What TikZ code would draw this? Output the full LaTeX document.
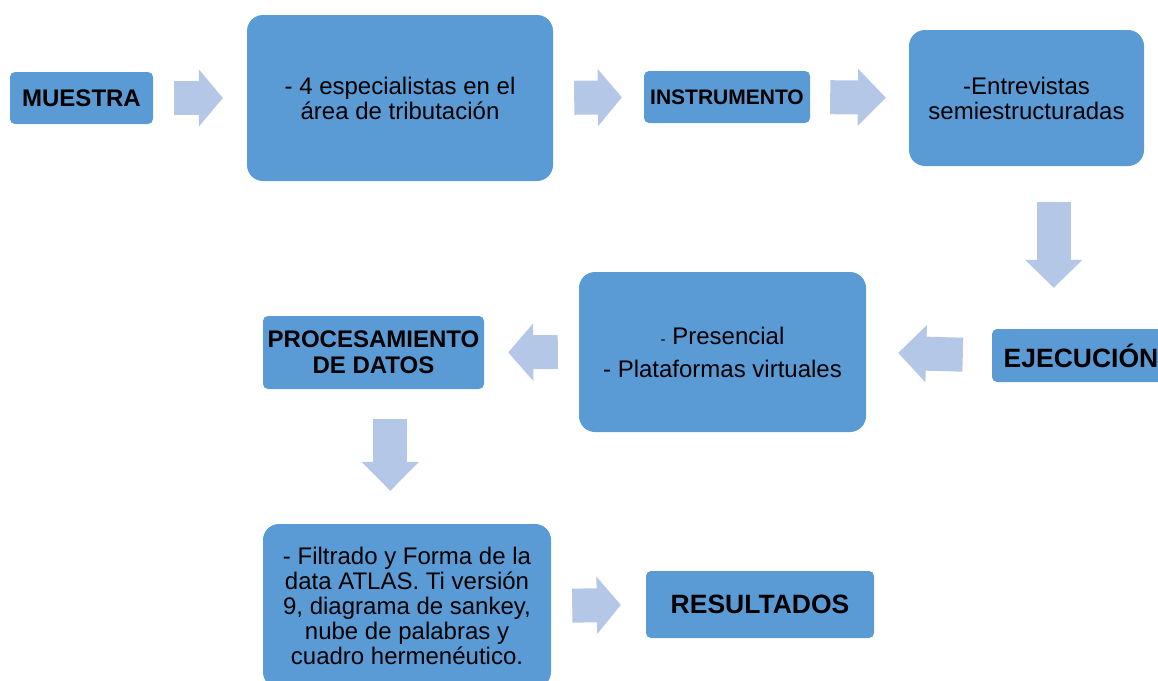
\documentclass[tikz,border=0pt]{standalone}
\usepackage{fontspec}
\setmainfont{Liberation Sans}
\usetikzlibrary{calc, arrows.meta}
\definecolor{boxblue}{HTML}{5B9BD5}
\definecolor{arrowblue}{HTML}{B4C7E7}

\begin{document}
\begin{tikzpicture}[x=1pt, y=-1pt,
    box/.style={fill=boxblue, rounded corners=5pt, inner sep=0pt, align=center},
    bigbox/.style={box, rounded corners=16pt, font=\fontsize{24}{25}\selectfont},
    barrow/.style={draw=arrowblue, line width=34pt, -{Triangle[length=#1, width=57pt, line width=2pt]}},
    barrow/.default=25pt]
    \useasboundingbox (0,0) rectangle (1158,680);
    \node[box, minimum width=143pt, minimum height=52pt, font=\bfseries\fontsize{24}{26}\selectfont] (muestra) at (81.5,98) {MUESTRA};
    \node[bigbox, minimum width=306pt, minimum height=166pt] (tribut) at (400,98) {- 4 especialistas en el\\área de tributación};
    \node[box, minimum width=166pt, minimum height=52pt, font=\bfseries\fontsize{21}{23}\selectfont] (instr) at (727,97) {INSTRUMENTO};
    \node[bigbox, minimum width=235pt, minimum height=136pt] (entrev) at (1026.5,98) {-Entrevistas\\semiestructuradas};
    \node[box, minimum width=178pt, minimum height=53pt, font=\bfseries\fontsize{26.5}{28}\selectfont] (ejec) at (1081,355.5) {EJECUCIÓN};
    \node[bigbox, minimum width=287pt, minimum height=160pt] (presen) at (722.5,352) {{\fontsize{15}{15}\selectfont -} Presencial\\[8pt]- Plataformas virtuales};
    \node[box, minimum width=221pt, minimum height=73pt, font=\bfseries\fontsize{24}{26}\selectfont] (proces) at (373.5,352.5) {PROCESAMIENTO\\DE DATOS};
    \node[bigbox, minimum width=288pt, minimum height=164pt] (filtr) at (407,606) {- Filtrado y Forma de la\\data ATLAS. Ti versión\\9, diagrama de sankey,\\nube de palabras y\\cuadro hermenéutico.};
    \node[box, minimum width=228pt, minimum height=67pt, font=\bfseries\fontsize{26.5}{28}\selectfont] (result) at (760,604.5) {RESULTADOS};

    \coordinate (d1) at ($(entrev.south)!0.5!(ejec.north)$);
    \coordinate (d2) at ($(proces.south)!0.5!(filtr.north)$);
    \draw[barrow=24pt, shorten <=21pt, shorten >=24pt] (muestra.east) -- (tribut.west);
    \draw[barrow=24pt, shorten <=21pt, shorten >=22pt] (tribut.east) -- (instr.west);
    \draw[barrow=28pt, shorten <=20pt, shorten >=23pt] (instr.east) -- (entrev.west);
    \draw[barrow=28pt, shorten <=36pt, shorten >=41pt] (d1 |- entrev.south) -- (d1 |- ejec.north);
    \draw[barrow=28pt, shorten <=29pt, shorten >=32pt] (ejec.west) -- (presen.east);
    \draw[barrow, shorten <=21pt, shorten >=24pt] (presen.west) -- (proces.east);
    \draw[barrow=29pt, shorten <=30pt, shorten >=33pt] (d2 |- proces.south) -- (d2 |- filtr.north);
    \draw[barrow=24pt, shorten <=21pt, shorten >=25pt] (filtr.east) -- (result.west);
\end{tikzpicture}
\end{document}
